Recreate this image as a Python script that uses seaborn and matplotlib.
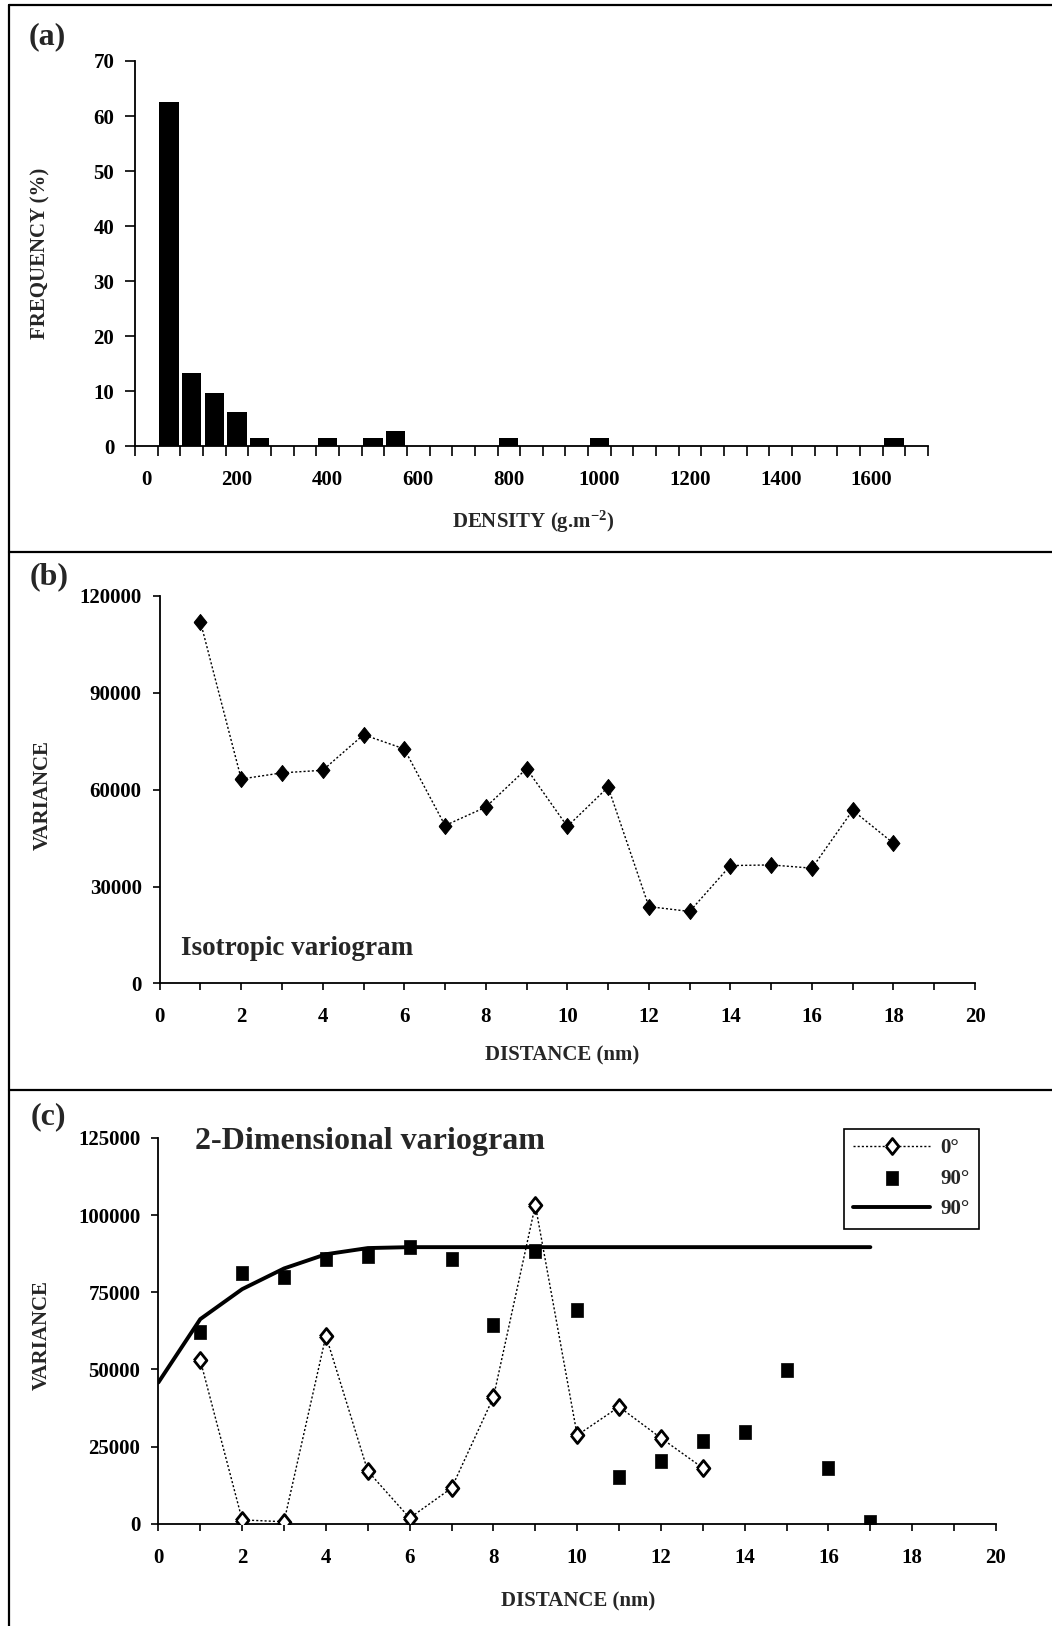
import numpy as np
import pandas as pd
import matplotlib
matplotlib.use("Agg")
import matplotlib.pyplot as plt
from matplotlib.lines import Line2D
from matplotlib.ticker import MultipleLocator, FixedLocator, FixedFormatter, NullFormatter
import seaborn as sns

# ---------------- data ----------------
# (a) frequency distribution of density classes (g.m-2)
density_classes = list(range(0, 1750, 50))
bar_classes = [50, 100, 150, 200, 250, 400, 500, 550, 800, 1000, 1650]
bar_freq = [62.5, 13.2, 9.7, 6.2, 1.5, 1.5, 1.5, 2.7, 1.5, 1.5, 1.5]

# (b) isotropic variogram
iso_dist = [1, 2, 3, 4, 5, 6, 7, 8, 9, 10, 11, 12, 13, 14, 15, 16, 17, 18]
iso_var = [111900, 63300, 65200, 66000, 77000, 72600, 48900, 54600, 66500,
           48600, 60800, 23800, 22300, 36500, 36700, 35700, 53600, 43400]

# (c) 2-dimensional variogram
dir0_dist = [1, 2, 3, 4, 5, 6, 7, 8, 9, 10, 11, 12, 13]
dir0_var = [53000, 1300, 700, 60900, 17100, 1900, 11600, 41000, 103200,
            28700, 37900, 27800, 18100]
dir90_dist = [1, 2, 3, 4, 5, 6, 7, 8, 9, 10, 11, 12, 13, 14, 15, 16, 17]
dir90_var = [62000, 81100, 79900, 85700, 86700, 89800, 85600, 64500, 88300,
             69400, 15100, 20300, 26800, 29600, 49800, 18100, 600]
model_dist = [0, 1, 2, 3, 4, 5, 6, 7, 8, 9, 10, 11, 12, 13, 14, 15, 16, 17]
model_var = [45800, 66300, 76000, 82700, 87300, 89300, 89600, 89600, 89600,
             89600, 89600, 89600, 89600, 89600, 89600, 89600, 89600, 89600]

# ---------------- style ----------------
sns.set_theme(style="ticks")
plt.rcParams["font.family"] = ["Liberation Serif", "DejaVu Serif"]
plt.rcParams["font.weight"] = "bold"
plt.rcParams["axes.labelweight"] = "bold"
plt.rcParams["mathtext.fontset"] = "custom"
plt.rcParams["mathtext.rm"] = "Liberation Serif:bold"
plt.rcParams["mathtext.bf"] = "Liberation Serif:bold"
plt.rcParams["mathtext.default"] = "bf"

TICK_FS = 15
LABEL_FS = 15

W, H = 1052, 1626
fig = plt.figure(figsize=(W / 100, H / 100), dpi=100)


def px_axes(left, top, right, bottom):
    return fig.add_axes([left / W, 1 - bottom / H, (right - left) / W, (bottom - top) / H])


def style_axes(ax):
    for side in ("top", "right"):
        ax.spines[side].set_visible(False)
    for side in ("left", "bottom"):
        ax.spines[side].set_color("black")
        ax.spines[side].set_linewidth(1.3)
    ax.tick_params(axis="both", which="both", direction="out", color="black",
                   width=1.2, labelsize=TICK_FS, labelcolor="black")
    ax.tick_params(axis="y", which="major", length=5, pad=8)
    ax.tick_params(axis="x", which="both", length=5, pad=12)
    for lab in ax.get_xticklabels() + ax.get_yticklabels():
        lab.set_fontweight("bold")


# ---------------- (a) histogram ----------------
ax_a = px_axes(135, 61, 928, 446)
hist_df = pd.DataFrame({"DENSITY": [str(c) for c in bar_classes], "FREQ": bar_freq})
order = [str(c) for c in density_classes]
sns.barplot(data=hist_df, x="DENSITY", y="FREQ", order=order, color="black",
            width=0.85, linewidth=0, saturation=1, ax=ax_a)
for p in ax_a.patches:
    p.set_facecolor("black")
ax_a.set_xlim(-0.5, len(order) - 0.5)
ax_a.set_ylim(0, 70)
ax_a.yaxis.set_major_locator(MultipleLocator(10))
ax_a.xaxis.set_major_locator(FixedLocator(np.arange(-0.5, len(order), 1.0)))
ax_a.xaxis.set_major_formatter(NullFormatter())
lab_pos = list(range(0, len(order) - 1, 4))
ax_a.xaxis.set_minor_locator(FixedLocator(lab_pos))
ax_a.xaxis.set_minor_formatter(FixedFormatter([order[i] for i in lab_pos]))
style_axes(ax_a)
ax_a.tick_params(axis="x", which="major", length=7)
ax_a.tick_params(axis="x", which="minor", length=0, pad=17)
ax_a.tick_params(axis="y", which="major", length=7, pad=8)
for lab in ax_a.get_xticklabels(minor=True):
    lab.set_fontweight("bold")
ax_a.set_xlabel(r"DENSITY (g.m$^{-2}$)", fontsize=LABEL_FS, fontweight="bold")
ax_a.set_ylabel("FREQUENCY (%)", fontsize=LABEL_FS, fontweight="bold")
ax_a.xaxis.set_label_coords(0.502, -0.164)
ax_a.yaxis.set_label_coords(-0.106, 0.50)

# ---------------- (b) isotropic variogram ----------------
ax_b = px_axes(159.7, 595.8, 975, 983.5)
diamond = [(-0.8, 0), (0, 1), (0.8, 0), (0, -1), (-0.8, 0)]
sns.lineplot(x=iso_dist, y=iso_var, ax=ax_b, color="black", linewidth=1.0,
             linestyle=(0, (1.5, 1.5)), marker=diamond, markersize=11.5,
             markerfacecolor="black", markeredgecolor="black", sort=False)
ax_b.set_xlim(0, 20)
ax_b.set_ylim(0, 120000)
ax_b.xaxis.set_major_locator(MultipleLocator(2))
ax_b.xaxis.set_minor_locator(MultipleLocator(1))
ax_b.yaxis.set_major_locator(MultipleLocator(30000))
style_axes(ax_b)
ax_b.set_xlabel("DISTANCE (nm)", fontsize=LABEL_FS, fontweight="bold")
ax_b.set_ylabel("VARIANCE", fontsize=LABEL_FS, fontweight="bold")
ax_b.xaxis.set_label_coords(0.493, -0.159)
ax_b.yaxis.set_label_coords(-0.131, 0.486)
fig.text(181 / W, 1 - 955 / H, "Isotropic variogram", fontsize=19.5,
         fontweight="bold", ha="left", va="baseline")

# ---------------- (c) 2-dimensional variogram ----------------
ax_c = px_axes(158.4, 1137.8, 996, 1523.9)
square = [(-0.85, -1), (0.85, -1), (0.85, 1), (-0.85, 1), (-0.85, -1)]
sns.lineplot(x=dir0_dist, y=dir0_var, ax=ax_c, color="black", linewidth=1.0,
             linestyle=(0, (1.5, 1.5)), marker=diamond, markersize=11.5,
             markerfacecolor="white", markeredgecolor="black",
             markeredgewidth=2.0, sort=False, label="0\u00b0", zorder=4)
sns.scatterplot(x=dir90_dist, y=dir90_var, ax=ax_c, marker=square, s=115,
                color="black", edgecolor="black", linewidth=0.5,
                label="90\u00b0", zorder=3)
sns.lineplot(x=model_dist, y=model_var, ax=ax_c, color="black", linewidth=2.8,
             sort=False, label="90\u00b0", zorder=2)
ax_c.set_xlim(0, 20)
ax_c.set_ylim(0, 125000)
ax_c.xaxis.set_major_locator(MultipleLocator(2))
ax_c.xaxis.set_minor_locator(MultipleLocator(1))
ax_c.yaxis.set_major_locator(MultipleLocator(25000))
style_axes(ax_c)
ax_c.set_xlabel("DISTANCE (nm)", fontsize=LABEL_FS, fontweight="bold")
ax_c.set_ylabel("VARIANCE", fontsize=LABEL_FS, fontweight="bold")
ax_c.xaxis.set_label_coords(0.501, -0.176)
ax_c.yaxis.set_label_coords(-0.127, 0.489)
leg = ax_c.legend(loc="upper right", bbox_to_anchor=(0.980, 1.023),
                  borderaxespad=0, fancybox=False, framealpha=1,
                  edgecolor="black", handlelength=3.7, handletextpad=0.5,
                  labelspacing=0.5, borderpad=0.45,
                  prop={"family": "Liberation Serif", "weight": "bold", "size": 15})
leg.get_frame().set_linewidth(1.2)
fig.text(194.6 / W, 1 - 1149 / H, "2-Dimensional variogram", fontsize=23,
         fontweight="bold", ha="left", va="baseline")

# ---------------- panel letters and frame lines ----------------
for (cx, cy, letter) in [(47, 37, "(a)"), (49, 577, "(b)"), (48, 1117, "(c)")]:
    fig.text(cx / W, 1 - cy / H, letter, fontsize=23, fontweight="bold",
             ha="center", va="center")

frame_kw = dict(color="black", linewidth=1.6, transform=fig.transFigure)
fig.add_artist(Line2D([8.7 / W, 8.7 / W], [1 - 5.5 / H, 0], **frame_kw))
for yy in (5.5, 552, 1090):
    fig.add_artist(Line2D([8.7 / W, 1], [1 - yy / H, 1 - yy / H], **frame_kw))

fig.savefig("out.png", dpi=100, facecolor="white")
